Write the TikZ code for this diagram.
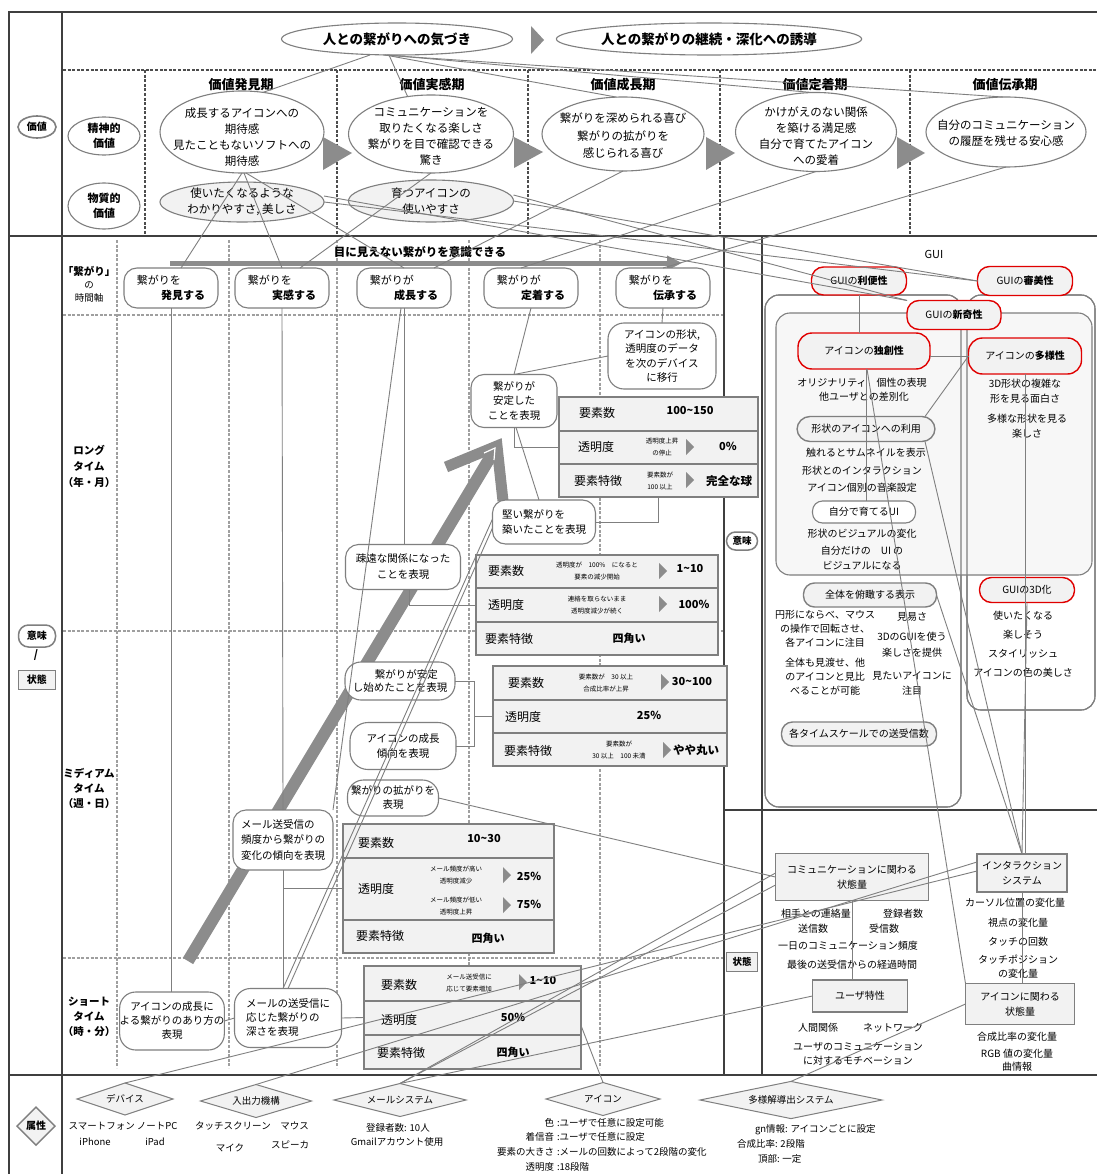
\documentclass[tikz,border=0pt]{standalone}
\usepackage{fontspec}
\setmainfont{Noto Sans CJK JP}
\usetikzlibrary{shapes.geometric,arrows.meta,calc}
\definecolor{lg}{HTML}{7F7F7F}
\definecolor{fr}{HTML}{3F3F3F}
\definecolor{fl}{HTML}{F2F2F2}
\definecolor{fi}{HTML}{F7F7F7}
\definecolor{rd}{HTML}{E00000}
\definecolor{dk}{HTML}{4D4D4D}
\definecolor{ar}{HTML}{8C8C8C}
\newcommand\trg[2]{\fill[ar] (#1,#2-8) -- (#1+8,#2) -- (#1,#2+8) -- cycle;}
\tikzset{
  base/.style={inner sep=0pt, outer sep=0pt, align=center, text=black, font=\fontsize{10.5}{14}\selectfont},
  fa/.style={font=\fontsize{6.5}{12}\selectfont},
  fb/.style={font=\fontsize{9.5}{13}\selectfont},
  fc/.style={font=\fontsize{10}{15}\selectfont},
  fd/.style={font=\fontsize{11}{15.5}\selectfont},
  fe/.style={font=\fontsize{12}{15}\selectfont},
  bd/.style={font=\fontsize{11}{15}\bfseries},
  bh/.style={font=\fontsize{13}{15}\bfseries},
  ell/.style={base, ellipse, draw=lg, line width=1.1pt, fill=white},
  gell/.style={ell, fill=fl},
  rbox/.style={base, rectangle, rounded corners=13pt, draw=lg, line width=1.1pt, fill=white},
  grbox/.style={rbox, fill=fl, line width=1.4pt},
  gbox/.style={base, rectangle, draw=lg, line width=1.1pt, fill=fl},
  tab/.style={base, rectangle, draw=lg, line width=1.1pt, fill=fl},
  tline/.style={draw=lg, line width=1.1pt},
  redbox/.style={base, rectangle, rounded corners=12pt, draw=rd, line width=1.4pt, fill=fl},
  dia/.style={base, diamond, draw=lg, line width=1pt, fill=fl, aspect=3},
  conn/.style={draw=lg, line width=0.9pt},
  frame/.style={draw=fr, line width=1.5pt},
  tdash/.style={draw=dk, line width=1.6pt, dash pattern=on 3pt off 1.6pt},
  gdash/.style={draw=lg!75, line width=1.6pt, dash pattern=on 3pt off 1.6pt},
  txt/.style={base, fb},
  vt/.style={base, font=\fontsize{11.5}{16}\selectfont},
}
\begin{document}
\begin{tikzpicture}[x=1pt,y=-1pt]
\fill[white] (0,0) rectangle (1097,1174);
\useasboundingbox (0,0) rectangle (1097,1174);

% ---------- grid lines ----------
\draw[tdash] (63,70) -- (1097,70);
\foreach \x in {145,337,528,720,910} \draw[tdash] (\x,70) -- (\x,236);
\foreach \y in {315,631,958} \draw[gdash] (63,\y) -- (724,\y);
\foreach \x in {117,229,337,469,600} \draw[gdash] (\x,240) -- (\x,1068);

\draw[frame] (9,1174) -- (9,12) -- (1097,12);
\draw[frame] (62,12) -- (62,1174);
\draw[frame] (9,236) -- (1097,236);
\draw[frame] (9,1075) -- (1097,1075);
\draw[frame] (724,236) -- (724,1075);
\draw[frame] (762,236) -- (762,1075);
\draw[frame] (724,810) -- (1097,810);

% ---------- left column labels ----------
\node[ell, line width=1.6pt, minimum width=38, minimum height=22, font=\fontsize{10}{12}\bfseries] (lv) at (37,127) {価値};
\node[ell, bd, minimum width=72, minimum height=38] (sp) at (104,136) {精神的\\価値};
\node[ell, bd, minimum width=72, minimum height=46] (mp) at (104,206) {物質的\\価値};
\node[rbox, rounded corners=10pt, line width=1.5pt, minimum width=37, minimum height=22, font=\fontsize{10}{12}\bfseries] (lim) at (37,636) {意味};
\node[base, bd] (lsl) at (36,655) {/};
\node[gbox, line width=1.3pt, minimum width=37, minimum height=19, font=\fontsize{10}{12}\bfseries] (ljt) at (37,680) {状態};
\node[dia, aspect=1, line width=1.4pt, minimum width=38, minimum height=38, font=\fontsize{10}{12}\bfseries] (lzs) at (36,1126) {属性};

\node[base, font=\fontsize{10.5}{12}\bfseries] (tax) at (89,271) {「繋がり」};
\node[base, fb] (tax2) at (89,285) {の};
\node[base, fb] (tax3) at (89,298) {時間軸};
\node[base, bd, font=\fontsize{10.5}{16}\bfseries] (lng) at (89,466) {ロング\\タイム\\（年・月）};
\node[base, bd, font=\fontsize{10.5}{15}\bfseries] (mid) at (89,788) {ミディアム\\タイム\\（週・日）};
\node[base, bd, font=\fontsize{10.5}{15}\bfseries] (sht) at (89,1017) {ショート\\タイム\\（時・分）};

% ---------- top: values ----------
\node[ell, minimum width=231, minimum height=32, font=\fontsize{13.5}{15}\bfseries] (aw) at (397,39) {人との繋がりへの気づき};
\fill[ar] (531,26) -- (544,40) -- (531,54) -- cycle;
\node[ell, minimum width=289, minimum height=32, font=\fontsize{13.5}{15}\bfseries] (ct) at (709,39) {人との繋がりの継続・深化への誘導};

\node[base, bh] (h1) at (241,85) {価値発見期};
\node[base, bh] (h2) at (432,85) {価値実感期};
\node[base, bh] (h3) at (623,85) {価値成長期};
\node[base, bh] (h4) at (815,85) {価値定着期};
\node[base, bh] (h5) at (1005,85) {価値伝承期};

\node[ell, minimum width=164, minimum height=82] (v1) at (242,132) {};
\node[vt] (v1t) at (242,137) {成長するアイコンへの\\期待感\\見たこともないソフトへの\\期待感};
\node[ell, minimum width=165, minimum height=78] (v2) at (431,134) {};
\node[vt] (v2t) at (431,136) {コミュニケーションを\\取りたくなる楽しさ\\繋がりを目で確認できる\\驚き};
\node[ell, minimum width=162, minimum height=74] (v3) at (623,134) {};
\node[vt, font=\fontsize{11.5}{17.5}\selectfont] (v3t) at (623,136) {繋がりを深められる喜び\\繋がりの拡がりを\\感じられる喜び};
\node[ell, minimum width=161, minimum height=79] (v4) at (816,132) {};
\node[vt] (v4t) at (816,136) {かけがえのない関係\\を築ける満足感\\自分で育てたアイコン\\への愛着};
\node[ell, minimum width=160, minimum height=70] (v5) at (1006,132) {};
\node[vt] (v5t) at (1006,133) {自分のコミュニケーション\\の履歴を残せる安心感};
\fill[ar] (323,137) -- (352,153) -- (323,170) -- cycle;
\fill[ar] (514,137) -- (543,152) -- (514,168) -- cycle;
\fill[ar] (706,137) -- (735,153) -- (706,170) -- cycle;
\fill[ar] (897,137) -- (925,153) -- (897,169) -- cycle;

\node[gell, minimum width=164, minimum height=40, font=\fontsize{11.5}{16}\selectfont] (m1) at (242,202) {使いたくなるような\\わかりやすさ, 美しさ};
\node[gell, minimum width=165, minimum height=42, font=\fontsize{11.5}{16}\selectfont] (m2) at (431,201) {育つアイコンの\\使いやすさ};

% ---------- time axis ----------
\coordinate (barS) at (170,263);
\coordinate (barE) at (682,263);
\draw[ar, line width=5pt, -{Triangle[length=15pt,width=14pt]}] (barS) -- (barE);
\node[base, font=\fontsize{11.5}{14}\bfseries] (bartxt) at (420,252) {目に見えない繋がりを意識できる};

\node[rbox, fd, align=left, minimum width=94, minimum height=40] (k1) at (171,288) {繋がりを\\\hspace*{2.2em}\textbf{発見する}};
\node[rbox, fd, align=left, minimum width=94, minimum height=40] (k2) at (282,288) {繋がりを\\\hspace*{2.2em}\textbf{実感する}};
\node[rbox, fd, align=left, minimum width=94, minimum height=40] (k3) at (404,288) {繋がりが\\\hspace*{2.2em}\textbf{成長する}};
\node[rbox, fd, align=left, minimum width=94, minimum height=40] (k4) at (531,288) {繋がりが\\\hspace*{2.2em}\textbf{定着する}};
\node[rbox, fd, align=left, minimum width=94, minimum height=40] (k5) at (663,288) {繋がりを\\\hspace*{2.2em}\textbf{伝承する}};

% big arrow
\coordinate (arS) at (188,961);
\coordinate (arT) at (494,451);
\draw[ar, line width=12pt] (arS) -- (arT);
\coordinate (arB1) at (446,467);
\coordinate (arB2) at (503,501);
\coordinate (arTip) at (497,446);
\draw[ar, line width=11pt, line join=miter] (arB1) -- (arTip) -- (arB2);
\draw[white, line width=1.2pt] (484,453) -- (495,448) -- (494,460);

% long-time boxes
\node[rbox, rounded corners=16pt, minimum width=108, minimum height=66, font=\fontsize{10.5}{14.5}\selectfont] (a1) at (662,356) {アイコンの形状,\\透明度のデータ\\を次のデバイス\\に移行};
\node[rbox, minimum width=86, minimum height=53, font=\fontsize{10.5}{14.5}\selectfont] (a2) at (514,401) {繋がりが\\安定した\\ことを表現};
\node[tab, minimum width=199, minimum height=100] (T1) at (658.5,447) {};
\draw[tline] (559,431) -- (758,431) (559,464) -- (758,464);
\node[base, fe] (t1a) at (597,413) {要素数};
\node[base, font=\fontsize{11}{13}\bfseries] (t1b) at (690,411) {100\textasciitilde150};
\node[base, fe] (t1c) at (596,447) {透明度};
\node[base, fa] (t1d) at (662,447) {透明度上昇\\の停止};
\trg{686}{447}
\node[base, font=\fontsize{11}{13}\bfseries] (t1e) at (728,446) {0\%};
\node[base, fe] (t1f) at (598,481) {要素特徴};
\node[base, fa] (t1g) at (660,481) {要素数が\\100 以上};
\trg{686}{480}
\node[base, font=\fontsize{11.5}{13}\bfseries] (t1h) at (729,481) {完全な球};

\node[rbox, align=left, minimum width=103, minimum height=44, font=\fontsize{10.5}{15.5}\selectfont] (a3) at (544,522) {堅い繋がりを\\築いたことを表現};
\node[rbox, minimum width=115, minimum height=45, font=\fontsize{10.5}{16}\selectfont] (a4) at (403,567) {疎遠な関係になった\\ことを表現};

\node[tab, minimum width=242, minimum height=100] (T2) at (597,605) {};
\draw[tline] (476,588) -- (718,588) (476,622) -- (718,622);
\node[base, fe] (t2a) at (506,571) {要素数};
\node[base, fa] (t2b) at (597,571) {透明度が　100\%　になると\\要素の減少開始};
\trg{659}{571}
\node[base, font=\fontsize{11}{13}\bfseries] (t2c) at (690,569) {1\textasciitilde10};
\node[base, fe] (t2d) at (506,605) {透明度};
\node[base, fa] (t2e) at (597,605) {連絡を取らないまま\\透明度減少が続く};
\trg{659}{604}
\node[base, font=\fontsize{11}{13}\bfseries] (t2f) at (694,604) {100\%};
\node[base, fe] (t2g) at (509,639) {要素特徴};
\node[base, font=\fontsize{11}{13}\bfseries] (t2h) at (629,638) {四角い};

% medium-time
\node[rbox, minimum width=110, minimum height=38, rounded corners=16pt, font=\fontsize{10.5}{13}\selectfont] (b1) at (400,681) {\hspace*{1.2em}繋がりが安定\\し始めたことを表現};
\node[tab, minimum width=234, minimum height=100] (T3) at (610,716) {};
\draw[tline] (493,700) -- (727,700) (493,733) -- (727,733);
\node[base, fe] (t3a) at (526,683) {要素数};
\node[base, fa] (t3b) at (606,683) {要素数が　30 以上\\合成比率が上昇};
\trg{661}{682}
\node[base, font=\fontsize{11}{13}\bfseries] (t3c) at (692,681) {30\textasciitilde100};
\node[base, fe] (t3d) at (523,717) {透明度};
\node[base, font=\fontsize{11}{13}\bfseries] (t3e) at (649,715) {25\%};
\node[base, fe] (t3f) at (528,751) {要素特徴};
\node[base, fa] (t3g) at (619,750) {要素数が\\30 以上　100 未満};
\trg{663}{750}
\node[base, font=\fontsize{11.5}{13}\bfseries] (t3h) at (696,750) {やや丸い};

\node[rbox, minimum width=106, minimum height=47, rounded corners=18pt, font=\fontsize{10.5}{15}\selectfont] (b2) at (403,746) {アイコンの成長\\傾向を表現};
\node[rbox, minimum width=91, minimum height=36, rounded corners=16pt, font=\fontsize{10.5}{14}\selectfont] (b3) at (393,798) {繋がりの拡がりを\\表現};
\node[rbox, align=left, minimum width=100, minimum height=60, font=\fontsize{10.5}{15.5}\selectfont] (c1) at (283,840) {メール送受信の\\頻度から繋がりの\\変化の傾向を表現};

\node[tab, minimum width=211, minimum height=129] (T4) at (448.5,888.5) {};
\draw[tline] (343,858) -- (554,858) (343,920) -- (554,920);
\node[base, fe] (t4a) at (376,843) {要素数};
\node[base, font=\fontsize{11}{13}\bfseries] (t4b) at (484,838) {10\textasciitilde30};
\node[base, fe] (t4c) at (376,889) {透明度};
\node[base, fa] (t4d) at (456,875) {メール頻度が高い\\透明度減少};
\trg{503}{875}
\node[base, font=\fontsize{11}{13}\bfseries] (t4e) at (529,876) {25\%};
\node[base, fa] (t4f) at (456,906) {メール頻度が低い\\透明度上昇};
\trg{503}{905}
\node[base, font=\fontsize{11}{13}\bfseries] (t4g) at (529,904) {75\%};
\node[base, fe] (t4h) at (380,936) {要素特徴};
\node[base, font=\fontsize{11}{13}\bfseries] (t4i) at (488,938) {四角い};

% short-time
\node[rbox, minimum width=102, minimum height=58, rounded corners=16pt, font=\fontsize{10.5}{14}\selectfont] (d1) at (172,1021) {アイコンの成長に\\よる繋がりのあり方の\\表現};
\node[rbox, align=left, minimum width=107, minimum height=59, rounded corners=16pt, font=\fontsize{10.5}{14}\selectfont] (d2) at (288,1018) {メールの送受信に\\応じた繋がりの\\深さを表現};
\node[tab, minimum width=217, minimum height=103] (T5) at (472.5,1017.5) {};
\draw[tline] (364,1001) -- (581,1001) (364,1035) -- (581,1035);
\node[base, fe] (t5a) at (399,985) {要素数};
\node[base, fa] (t5b) at (469,983) {メール送受信に\\応じて要素増加};
\trg{519}{982}
\node[base, font=\fontsize{11}{13}\bfseries] (t5c) at (543,980) {1\textasciitilde10};
\node[base, fe] (t5d) at (399,1020) {透明度};
\node[base, font=\fontsize{11}{13}\bfseries] (t5e) at (513,1017) {50\%};
\node[base, fe] (t5f) at (401,1053) {要素特徴};
\node[base, font=\fontsize{11}{13}\bfseries] (t5g) at (513,1052) {四角い};

% ---------- right: GUI ----------
\node[rbox, rounded corners=9pt, line width=1.5pt, minimum width=31, minimum height=18, font=\fontsize{9.5}{12}\bfseries] (im2) at (742,541) {意味};
\node[gbox, line width=1.3pt, minimum width=31, minimum height=19, font=\fontsize{9.5}{12}\bfseries] (jt2) at (742,962) {状態};

\node[base, fd] (gui) at (934,254) {GUI};
\draw[lg, line width=1.1pt, fill=white, rounded corners=14pt] (765,295) rectangle (961,807);
\draw[lg, line width=1.1pt, fill=white, rounded corners=14pt] (967,295) rectangle (1095,710);
\draw[lg, line width=1.1pt, fill=fi, rounded corners=14pt] (776,313) rectangle (1092,575);
\draw[lg, line width=1.1pt, rounded corners=14pt] (765,295) rectangle (961,807);
\draw[lg, line width=1.1pt, rounded corners=14pt] (967,295) rectangle (1095,710);

\node[redbox, fc, minimum width=95, minimum height=28] (r1) at (859,281) {GUIの\textbf{利便性}};
\node[redbox, fc, minimum width=95, minimum height=29] (r2) at (1025,281) {GUIの\textbf{審美性}};
\node[redbox, fc, minimum width=94, minimum height=29] (r3) at (954,315) {GUIの\textbf{新奇性}};
\node[redbox, fc, minimum width=132, minimum height=36, rounded corners=14pt] (r4) at (864,351) {アイコンの\textbf{独創性}};
\node[redbox, fc, minimum width=113, minimum height=36, rounded corners=14pt] (r5) at (1025,356) {アイコンの\textbf{多様性}};
\node[redbox, fc, minimum width=95, minimum height=25] (r6) at (1027,590) {GUIの3D化};

\node[txt, fc] (g0a) at (862,383) {オリジナリティ　個性の表現};
\node[txt, fc] (g0b) at (864,397) {他ユーザとの差別化};
\node[grbox, fc, minimum width=138, minimum height=25] (g1) at (866,429) {形状のアイコンへの利用};
\node[txt, fc] (g1a) at (866,453) {触れるとサムネイルを表示};
\node[txt, fc] (g1b) at (862,471) {形状とのインタラクション};
\node[txt, fc] (g1c) at (862,488) {アイコン個別の音楽設定};
\node[rbox, fc, minimum width=103, minimum height=22, rounded corners=10pt] (g2) at (864,512) {自分で育てるUI};
\node[txt, fc] (g2a) at (862,534) {形状のビジュアルの変化};
\node[txt, fc] (g2b) at (862,551) {自分だけの　UI の};
\node[txt, fc] (g2c) at (862,566) {ビジュアルになる};
\node[txt, fc] (g5a) at (1025,391) {3D形状の複雑な\\形を見る面白さ};
\node[txt, fc] (g5b) at (1027,426) {多様な形状を見る\\楽しさ};
\node[grbox, fc, minimum width=133, minimum height=24, rounded corners=11pt] (g3) at (870,595) {全体を俯瞰する表示};
\node[txt, font=\fontsize{10}{14}\selectfont] (g3a) at (825,629) {円形にならべ、マウス\\の操作で回転させ、\\各アイコンに注目};
\node[txt, font=\fontsize{10}{14}\selectfont] (g3b) at (825,677) {全体も見渡せ、他\\のアイコンと見比\\べることが可能};
\node[txt, fc] (g3c) at (912,617) {見易さ};
\node[txt, font=\fontsize{10}{16}\selectfont] (g3d) at (912,645) {3DのGUIを使う\\楽しさを提供};
\node[txt, font=\fontsize{10}{15}\selectfont] (g3e) at (912,683) {見たいアイコンに\\注目};
\node[txt, fc] (g6a) at (1023,616) {使いたくなる};
\node[txt, fc] (g6b) at (1023,635) {楽しそう};
\node[txt, fc] (g6c) at (1023,654) {スタイリッシュ};
\node[txt, fc] (g6d) at (1023,673) {アイコンの色の美しさ};
\node[grbox, fc, minimum width=155, minimum height=24, rounded corners=11pt] (g4) at (859,734) {各タイムスケールでの送受信数};

% ---------- right: states ----------
\node[gbox, minimum width=153, minimum height=47, font=\fontsize{10}{15}\selectfont] (s1) at (852,877) {コミュニケーションに関わる\\状態量};
\node[txt, fc] (s1a) at (816,914) {相手との連絡量};
\node[txt, fc] (s1b) at (903,914) {登録者数};
\node[txt, fc] (s1c) at (813,929) {送信数};
\node[txt, fc] (s1d) at (884,929) {受信数};
\node[txt, fc] (s1e) at (848,946) {一日のコミュニケーション頻度};
\node[txt, fc] (s1f) at (852,965) {最後の送受信からの経過時間};
\node[gbox, fc, minimum width=95, minimum height=32] (s2) at (860,996) {ユーザ特性};
\node[txt, fc] (s2a) at (818,1028) {人間関係};
\node[txt, fc] (s2b) at (893,1028) {ネットワーク};
\node[txt, font=\fontsize{10}{13.5}\selectfont] (s2c) at (858,1054) {ユーザのコミュニケーション\\に対するモチベーション};
\node[gbox, minimum width=90, minimum height=38, font=\fontsize{10}{15}\selectfont] (s3) at (1022,873) {インタラクション\\システム};
\node[txt, fc] (s3a) at (1015,903) {カーソル位置の変化量};
\node[txt, fc] (s3b) at (1018,923) {視点の変化量};
\node[txt, fc] (s3c) at (1018,942) {タッチの回数};
\node[txt, font=\fontsize{10}{14}\selectfont] (s3d) at (1018,967) {タッチポジション\\の変化量};
\node[gbox, minimum width=109, minimum height=41, font=\fontsize{10}{15}\selectfont] (s4) at (1020,1004) {アイコンに関わる\\状態量};
\node[txt, fc] (s4a) at (1017,1037) {合成比率の変化量};
\node[txt, font=\fontsize{10}{13.5}\selectfont] (s4b) at (1017,1060) {RGB 値の変化量\\曲情報};

% ---------- attributes ----------
\node[dia, fb, minimum width=96, minimum height=32] (e1) at (125,1099) {デバイス};
\node[txt, fb] (e1a) at (123,1126) {スマートフォン ノートPC};
\node[txt, fb] (e1b) at (95,1142) {iPhone};
\node[txt, fb] (e1c) at (155,1142) {iPad};
\node[dia, fb, minimum width=111, minimum height=33] (e2) at (256,1101) {入出力機構};
\node[txt, fb] (e2a) at (252,1126) {タッチスクリーン　マウス};
\node[txt, fb] (e2b) at (230,1148) {マイク};
\node[txt, fb] (e2c) at (290,1145) {スピーカ};
\node[dia, fb, minimum width=132, minimum height=33] (e3) at (400,1100) {メールシステム};
\node[txt, fb] (e3a) at (398,1128) {登録者数: 10人};
\node[txt, fb] (e3b) at (397,1142) {Gmailアカウント使用};
\node[dia, fb, minimum width=114, minimum height=33] (e4) at (603,1099) {アイコン};
\node[txt, fb, anchor=east] (e4a) at (554,1123) {色};
\node[txt, fb, anchor=west] (e4b) at (557,1123) {:ユーザで任意に設定可能};
\node[txt, fb, anchor=east] (e4c) at (554,1137) {着信音};
\node[txt, fb, anchor=west] (e4d) at (557,1137) {:ユーザで任意に設定};
\node[txt, fb, anchor=east] (e4e) at (554,1152) {要素の大きさ};
\node[txt, fb, anchor=west] (e4f) at (557,1152) {:メールの回数によって2段階の変化};
\node[txt, fb, anchor=east] (e4g) at (554,1167) {透明度};
\node[txt, fb, anchor=west] (e4h) at (557,1167) {:18段階};
\node[dia, fb, minimum width=182, minimum height=35] (e5) at (791,1100) {多様解導出システム};
\node[txt, fb, anchor=west] (e5a) at (755,1130) {gn情報: アイコンごとに設定};
\node[txt, fb, anchor=west] (e5b) at (737,1144) {合成比率: 2段階};
\node[txt, fb, anchor=west] (e5c) at (758,1159) {頂部: 一定};

% ---------- connectors ----------
\draw[conn] ([xshift=-27]aw.south) -- (v1.62);
\draw[conn] ([xshift=-8]aw.south) -- (v2.122);
\draw[conn] ([xshift=-12]aw.south) -- (v3.100);
\draw[conn] ([xshift=-10]aw.south) -- (v4.95);
\draw[conn] ([xshift=-14]aw.south) -- (v5.95);
\draw[conn] (v1.south) -- ([xshift=10]k1.north);
\draw[conn] ([xshift=2]v1.south) -- (k2.north);
\draw[conn] ([xshift=4]v1.south) -- (k3.north);
\draw[conn] (v2.south) -- ([xshift=18]k2.north);
\draw[conn] (v3.south) -- ([xshift=30]k3.north);
\draw[conn] (v4.south) -- ([xshift=-10]k4.north);
\draw[conn] (v5.south) -- (k5.north);
\draw[conn] (m1.east) -- (r2.west);
\draw[conn] ([yshift=6]m1.east) -- (r3.north west);
\draw[conn] (m2.east) -- (r2.west);
\draw[conn] ([yshift=6]m2.east) -- (r3.north west);

\draw[conn] (k1.south) -- (k1.south |- d1.north);
\draw[conn] (k2.south) -- (c1.north);
\draw[conn] (c1.south) -- (c1.south |- d2.north);
\draw[conn] (c1.south |- T4.west) -- (T4.west);
\draw[conn] (k3.south) -- (k3.south |- a4.north);
\draw[conn] ([xshift=-3]k3.south) -- (c1.north east);
\draw[conn] (k4.south) -- (a2.north);
\draw[conn] (k5.south) -- (a1.north);
\draw[conn] (a1.west) -- (a2.north);
\draw[conn] ([xshift=2]a2.south) -- ([xshift=-5]a3.north);
\draw[conn] (a2.south) |- (T1.west);
\draw[conn] (T1.south) |- (a3.east);
\draw[conn] ([xshift=6]a4.south) |- (T2.west);
\draw[conn] (b1.east) -- ++(19,0) coordinate (bj) |- (b2.east);
\draw[conn] (T3.west) -- (T3.west -| bj);
\draw[conn] (d1.east) -- (d2.west);
\draw[conn] (d2.east) -- (T5.west);
\draw[conn] ([yshift=-8]T5.east) -- (e4.north);
\draw[conn] (b3.east) -- (s1.west);
\draw[conn] ([yshift=-6]a3.west) -- (d2.north);
\draw[conn] ([yshift=3]a3.west) -- ([xshift=-5]d2.north);
\draw[conn] (e1.north) -- ([yshift=2]s3.west);
\draw[conn] (e2.north) -- ([yshift=-8]s3.north west);
\draw[conn] (e3.north) -- ([yshift=-8]s1.west);
\draw[conn] (e3.north) -- ([yshift=4]s1.west);
\draw[conn] (e3.north) -- (s2.west);
\draw[conn] (e5.north) -- (s4.west);
\draw[conn] (s1.south) -- (s1.south |- s2.north);
\draw[conn] (s3.south) -- (s3.south |- s4.north);
\draw[conn] ([xshift=3]r4.south) -- (s4.north west);
\draw[conn] ([xshift=-10]g1.south east) -- (s3.north);
\draw[conn] (g3.east) -- (s3.north);
\draw[conn] (r5.south) -- ([xshift=3]s3.north);
\draw[conn] (r6.south) -- (s3.north);
\draw[conn] (r1.south) -- (r1.south |- r4.north);
\draw[conn] ([xshift=2]r4.south) -- ([xshift=2]r4.south |- g2.north);
\draw[conn] (r5.west -| r4.east) -- (r5.west);
\draw[conn] (r5.west) -- ([xshift=-10]g1.north east);
\end{tikzpicture}
\end{document}
